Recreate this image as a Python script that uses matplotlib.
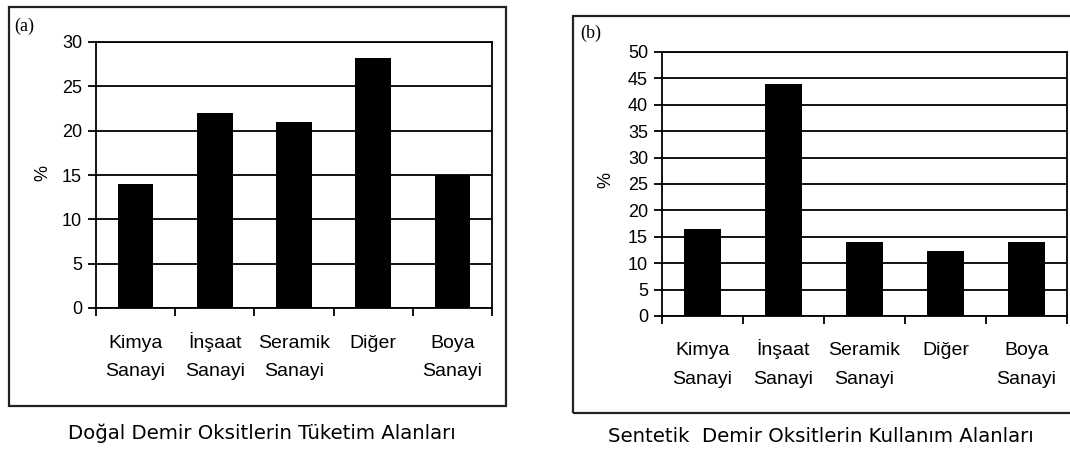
import matplotlib
matplotlib.use("Agg")
import matplotlib.pyplot as plt
from matplotlib.patches import Rectangle
import numpy as np

# Kullanım alanları ve yüzde payları
categories = ["Kimya\nSanayi", "İnşaat\nSanayi", "Seramik\nSanayi", "Diğer", "Boya\nSanayi"]
natural_values = [14, 22, 21, 28.2, 15]
synthetic_values = [16.5, 44, 14, 12.3, 14]
natural_yticks = [0, 5, 10, 15, 20, 25, 30]
synthetic_yticks = [0, 5, 10, 15, 20, 25, 30, 35, 40, 45, 50]
natural_title = "Doğal Demir Oksitlerin Tüketim Alanları"
synthetic_title = "Sentetik  Demir Oksitlerin Kullanım Alanları"

W, H = 1070, 450
fig = plt.figure(figsize=(W / 100, H / 100), dpi=100)
fig.patch.set_facecolor("white")

tick_font = "Liberation Sans"


def px_axes(left, top, right, bottom):
    return fig.add_axes([left / W, 1 - bottom / H, (right - left) / W, (bottom - top) / H])


def frame(left, top, right, bottom):
    fig.patches.append(Rectangle((left / W, 1 - bottom / H), (right - left) / W, (bottom - top) / H,
                                 transform=fig.transFigure, fill=False, edgecolor="#222222",
                                 linewidth=1.6, zorder=0))


def draw_panel(ax, values, yticks, top, bottom, base1_y, base2_y):
    x = np.arange(len(values))
    ax.bar(x, values, width=0.45, color="black", zorder=3)
    ax.set_xlim(-0.5, len(values) - 0.5)
    ax.set_ylim(yticks[0], yticks[-1])
    ax.set_yticks(yticks)
    ax.yaxis.grid(True, color="black", linewidth=1.3, zorder=1)
    ax.set_axisbelow(True)
    ax.set_xticks([])
    ax.set_xticks(np.arange(len(values) + 1) - 0.5, minor=True)
    ax.tick_params(axis="x", which="minor", length=6, width=1.3, direction="out")
    ax.tick_params(axis="y", length=6, width=1.3, direction="out", pad=4,
                   labelsize=13)
    for lab in ax.get_yticklabels():
        lab.set_family(tick_font)
    for s in ax.spines.values():
        s.set_linewidth(1.3)
        s.set_color("black")
    # category names, one text per line, all lines of a row on a shared baseline
    tr = ax.get_xaxis_transform()
    rows = [(bottom - base1_y) / (bottom - top), (bottom - base2_y) / (bottom - top)]
    for i, name in enumerate(categories):
        for j, part in enumerate(name.split("\n")):
            ax.text(i, rows[j], part, transform=tr, ha="center", va="baseline",
                    fontsize=14, family=tick_font, clip_on=False)


# (a) doğal demir oksitleri
frame(9, 7, 506, 406)
ax1 = px_axes(96, 42, 492, 308)
draw_panel(ax1, natural_values, natural_yticks, 42, 308, 348, 376)
fig.text(14 / W, 1 - 26 / H, "(a)", family="Liberation Serif", fontsize=13, va="center", ha="left")
fig.text(43 / W, 1 - 173 / H, "%", family=tick_font, fontsize=13, rotation=90,
         va="center", ha="center")
fig.text(262 / W, 1 - 433 / H, natural_title, family="DejaVu Sans", fontsize=14.2,
         va="center", ha="center")

# (b) sentetik demir oksitleri
frame(573, 16, 1080, 413)
ax2 = px_axes(662, 52, 1067, 316)
draw_panel(ax2, synthetic_values, synthetic_yticks, 52, 316, 355, 384)
fig.text(580 / W, 1 - 33 / H, "(b)", family="Liberation Serif", fontsize=13, va="center", ha="left")
fig.text(606 / W, 1 - 180 / H, "%", family=tick_font, fontsize=13, rotation=90,
         va="center", ha="center")
fig.text(821 / W, 1 - 436 / H, synthetic_title, family="DejaVu Sans", fontsize=14.2,
         va="center", ha="center")

fig.savefig("out.png", dpi=100, facecolor="white")
